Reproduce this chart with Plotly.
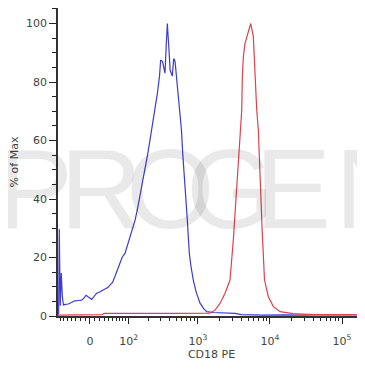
import numpy as np
import plotly.graph_objects as go

# ---- data (fluorescence values, % of max) ----
blue_fl = [-75, -73, -70, -67, -64, -61, -55, -48, -40, -32, -24, -17, -12, -8, -4, 0, 3.5, 8,
           13.8, 20, 27, 33, 39, 45, 50, 56, 63, 70, 78, 87, 95, 105, 115, 127, 138, 150, 165,
           180, 195, 212, 230, 250, 270, 290, 301, 320, 335, 347, 360, 374, 390, 410, 439, 460,
           480, 510, 540, 563, 590, 614, 640, 661, 690, 712, 735, 759, 800, 862, 950, 1070,
           1200, 1325, 1620, 2000, 2600, 3300, 4000, 5000, 8000, 15000, 30000, 60000, 100000,
           150000, 210000]
blue_pct = [0.5, 29.7, 3.5, 14.7, 7.0, 3.8, 4.0, 4.1, 4.6, 5.2, 5.3, 5.4, 6.2, 7.1, 6.6, 6.0, 5.7,
            6.6, 7.8, 8.2, 8.9, 9.4, 9.8, 10.8, 11.5, 13.4, 15.8, 18.0, 20.2, 21.4, 24.0, 27.1,
            30.0, 32.8, 36.5, 40.8, 46.5, 50.0, 55.0, 60.2, 65.0, 70.4, 76.0, 82.0, 87.5, 87.0,
            84.0, 83.0, 92.0, 100.0, 93.0, 84.0, 82.0, 88.0, 87.0, 80.0, 74.0, 70.4, 63.6, 55.6,
            50.0, 44.2, 38.0, 32.8, 27.0, 21.5, 17.0, 12.3, 8.0, 4.4, 2.5, 1.5, 1.2, 1.1, 1.0,
            0.9, 0.5, 0.4, 0.3, 0.4, 0.3, 0.5, 0.4, 0.3, 0.3]

red_fl = [-77, -40, 0, 25, 30, 100, 200, 500, 1000, 1470, 1726, 2026, 2377, 2789, 3100, 3276,
          3523, 3930, 4057, 4135, 4270, 4504, 5000, 5406, 5875, 6204, 6549, 6893, 7275, 7800,
          8400, 9487, 11135, 13791, 20900, 40000, 100000, 210000]
red_pct = [0.3, 0.4, 0.4, 0.5, 0.9, 1.0, 0.9, 0.9, 0.8, 1.0, 2.0, 4.3, 7.8, 12.3, 26.0, 35.2,
           46.5, 63.6, 70.4, 81.8, 88.6, 93.2, 97.0, 100.0, 95.5, 81.8, 70.4, 63.6, 46.5, 29.0,
           12.3, 6.6, 3.2, 1.5, 0.8, 0.5, 0.5, 0.4]

major_fl = [0, 1e2, 1e3, 1e4, 1e5]
major_text = ["0", "10<sup>2</sup>", "10<sup>3</sup>", "10<sup>4</sup>", "10<sup>5</sup>"]
minor_fl = ([-v for v in range(10, 80, 10)] + list(range(10, 100, 10)) +
            [m * 10 ** k for k in (2, 3, 4) for m in range(2, 10)] + [2e5])

watermark = "PROGEN"

# biexponential-like display transform (arcsinh)
C = 63.7
def tf(v):
    return np.arcsinh(np.asarray(v, dtype=float) / C)

xmin, xmax = -77, 2.08e5

fig = go.Figure()
fig.add_trace(go.Scatter(x=tf(blue_fl), y=blue_pct, mode="lines",
                         line=dict(color="#3c3cd0", width=1.2), showlegend=False))
fig.add_trace(go.Scatter(x=tf(red_fl), y=red_pct, mode="lines",
                         line=dict(color="#e0404c", width=1.2), showlegend=False))

# page is offset by the 8px default body margin
OFF = 8
L, W, H, B0 = 58, 307, 308, 316
centers = [35, 101, 170, 230, 293, 376]
for ch, cx in zip(watermark, centers):
    fig.add_annotation(text=ch, xref="paper", yref="paper",
                       x=(cx - L) / W, y=(B0 - 188) / H, xanchor="center", yanchor="middle",
                       showarrow=False,
                       font=dict(family="Liberation Sans", size=114, color="rgba(0,0,0,0.085)"))

axis_font = dict(family="DejaVu Sans", size=11, color="#444")
fig.update_layout(
    width=365 - OFF, height=372 - OFF,
    margin=dict(l=L - OFF, r=0, t=0, b=372 - B0, autoexpand=False),
    paper_bgcolor="white", plot_bgcolor="white",
    xaxis=dict(range=[float(tf(xmin)), float(tf(xmax))], tickmode="array",
               tickvals=tf(major_fl).tolist(), ticktext=major_text, automargin=False,
               ticks="outside", ticklen=6, tickwidth=1, tickcolor="#222",
               ticklabelstandoff=8,
               showline=True, linecolor="#333", linewidth=1.5, mirror=True,
               showgrid=False, zeroline=False, tickfont=axis_font,
               minor=dict(tickmode="array", tickvals=tf(minor_fl).tolist(), ticks="outside",
                          ticklen=3, tickcolor="#222", showgrid=False),
               title=dict(text="CD18 PE", font=axis_font, standoff=2)),
    yaxis=dict(range=[0, 105.3], tickmode="linear", tick0=0, dtick=20, automargin=False,
               ticks="outside", ticklen=7, tickwidth=1, tickcolor="#222",
               showline=True, linecolor="#333", linewidth=1.5, mirror=False,
               showgrid=False, zeroline=False, tickfont=axis_font,
               minor=dict(dtick=5, ticks="outside", ticklen=4, tickcolor="#222", showgrid=False),
               title=dict(text="% of Max", font=axis_font, standoff=6)),
)

fig.write_html("out.html")
